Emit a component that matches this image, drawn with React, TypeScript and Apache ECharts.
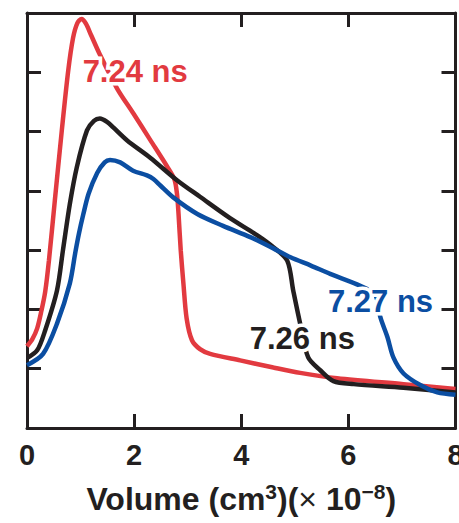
import React, { useEffect, useRef } from "react";
import * as echarts from "echarts";

const xTicks = [0, 2, 4, 6, 8];

const red724: number[][] = [
  [0, 1.38], [0.1, 1.5], [0.19, 1.68], [0.27, 1.98], [0.34, 2.3], [0.41, 2.83],
  [0.52, 3.84], [0.65, 5.02], [0.77, 6.03], [0.86, 6.58], [0.94, 6.83], [1.02, 6.9],
  [1.1, 6.82], [1.2, 6.62], [1.36, 6.3], [1.68, 5.73], [1.99, 5.3], [2.3, 4.86],
  [2.61, 4.42], [2.75, 4.2], [2.8, 3.95], [2.83, 3.6], [2.87, 3.0], [2.92, 2.44],
  [2.98, 1.85], [3.08, 1.48], [3.23, 1.33], [3.42, 1.25], [3.98, 1.14], [4.6, 1.02],
  [5.1, 0.93], [5.79, 0.84], [7.03, 0.74], [8, 0.66],
];

const black726: number[][] = [
  [0, 1.18], [0.19, 1.31], [0.34, 1.65], [0.56, 2.32], [0.67, 2.99], [0.8, 3.78],
  [0.93, 4.4], [1.12, 5.02], [1.25, 5.18], [1.36, 5.22], [1.5, 5.16], [1.61, 5.07],
  [1.87, 4.85], [2.3, 4.56], [2.8, 4.18], [3.23, 3.9], [3.79, 3.54], [4.3, 3.25],
  [4.6, 3.05], [4.86, 2.82], [4.97, 2.32], [5.1, 1.76], [5.25, 1.19], [5.48, 0.97],
  [5.72, 0.79], [6.1, 0.74], [7.03, 0.68], [8, 0.6],
];

const blue727: number[][] = [
  [0, 1.06], [0.3, 1.25], [0.56, 1.76], [0.8, 2.44], [0.9, 2.95], [0.97, 3.28],
  [1.05, 3.6], [1.15, 3.95], [1.31, 4.3], [1.45, 4.48], [1.55, 4.52], [1.74, 4.48],
  [1.98, 4.34], [2.24, 4.26], [2.36, 4.2], [2.49, 4.09], [2.73, 3.89], [3.18, 3.61],
  [3.66, 3.41], [4.17, 3.22], [4.6, 3.03], [4.92, 2.88], [5.3, 2.74], [5.66, 2.6],
  [6.22, 2.4], [6.5, 2.25], [6.6, 1.86], [6.73, 1.53], [6.84, 1.19], [7.03, 0.92],
  [7.35, 0.72], [7.66, 0.6], [8, 0.56],
];

const seriesNames = ["7.24 ns", "7.26 ns", "7.27 ns"];
const labelCoords: number[][] = [[2.02, 6.02], [5.14, 1.51], [6.6, 2.14]];

const RED = "#e23a40";
const BLACK = "#231f20";
const BLUE = "#0b4ea2";
const FONT = "'Liberation Sans', Arial, Helvetica, sans-serif";

function makeSeries(name: string, data: number[][], color: string, coord: number[]) {
  return {
    name,
    type: "line",
    data,
    showSymbol: false,
    symbol: "none",
    smooth: 0.3,
    lineStyle: { color, width: 4.5 },
    markPoint: {
      symbol: "circle",
      symbolSize: 1,
      itemStyle: { color: "rgba(0,0,0,0)" },
      label: {
        show: true,
        position: "inside",
        formatter: "{b}",
        color,
        fontFamily: FONT,
        fontWeight: "bold",
        fontSize: 31,
        textBorderColor: "#ffffff",
        textBorderWidth: 7,
      },
      data: [{ name, coord }],
    },
  };
}

function axisLine() {
  return { show: true, onZero: false, lineStyle: { color: BLACK, width: 3 } };
}
function axisTick() {
  return { show: true, inside: true, length: 14, lineStyle: { color: BLACK, width: 3 } };
}
function hiddenSplit() {
  return { show: true, lineStyle: { color: "rgba(0,0,0,0)", width: 0 } };
}

export default function App() {
  const ref = useRef<HTMLDivElement>(null);
  useEffect(() => {
    if (!ref.current) return;
    const chart = echarts.init(ref.current, null, { renderer: "svg" });
    chart.setOption({
      animation: false,
      backgroundColor: "#ffffff",
      grid: { left: 27, right: 3.5, top: 13, bottom: 95, containLabel: false, outerBoundsMode: "none" },
      xAxis: [
        {
          type: "value",
          position: "bottom",
          min: xTicks[0],
          max: xTicks[xTicks.length - 1],
          interval: 2,
          axisLine: axisLine(),
          axisTick: axisTick(),
          splitLine: hiddenSplit(),
          axisLabel: {
            show: true,
            margin: 12,
            color: BLACK,
            fontFamily: FONT,
            fontWeight: "bold",
            fontSize: 29,
          },
          name: "{a|Volume (cm}{s|3}{a|)(}{m|×}{a| 10}{s|−8}{a|)}",
          nameLocation: "middle",
          nameGap: 53,
          nameTextStyle: {
            rich: {
              a: { fontFamily: FONT, fontWeight: "bold", fontSize: 32, color: BLACK, lineHeight: 36 },
              m: { fontFamily: FONT, fontWeight: "normal", fontSize: 32, color: BLACK, lineHeight: 36 },
              s: { fontFamily: FONT, fontWeight: "bold", fontSize: 21, color: BLACK, verticalAlign: "top", lineHeight: 21 },
            },
          },
        },
        {
          type: "value",
          position: "top",
          min: 0,
          max: 8,
          interval: 2,
          axisLine: axisLine(),
          axisTick: axisTick(),
          splitLine: hiddenSplit(),
          axisLabel: { show: true, formatter: () => "" },
        },
      ],
      yAxis: [
        {
          type: "value",
          position: "left",
          min: 0,
          max: 7,
          interval: 1,
          axisLine: axisLine(),
          axisTick: axisTick(),
          splitLine: { show: false },
          axisLabel: { show: false },
        },
        {
          type: "value",
          position: "right",
          min: 0,
          max: 7,
          interval: 1,
          axisLine: axisLine(),
          axisTick: axisTick(),
          splitLine: { show: false },
          axisLabel: { show: false },
        },
      ],
      series: [
        makeSeries(seriesNames[0], red724, RED, labelCoords[0]),
        makeSeries(seriesNames[1], black726, BLACK, labelCoords[1]),
        makeSeries(seriesNames[2], blue727, BLUE, labelCoords[2]),
      ],
    });
    return () => chart.dispose();
  }, []);
  return (
    <div
      ref={ref}
      style={{ position: "absolute", left: 0, top: 0, width: 459, height: 523 }}
    />
  );
}
